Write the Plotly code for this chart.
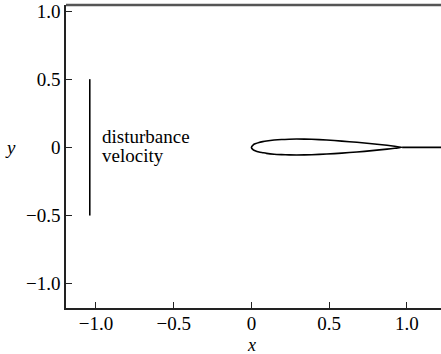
import plotly.graph_objects as go

# Airfoil surface coordinates (chord ~0.97)
x_upper = [0, 0.012, 0.024, 0.049, 0.073, 0.097, 0.146, 0.194, 0.243, 0.291, 0.388, 0.485, 0.582, 0.679, 0.776, 0.873, 0.922, 0.97]
y_upper = [0, 0.019, 0.026, 0.036, 0.042, 0.047, 0.054, 0.058, 0.060, 0.061, 0.059, 0.054, 0.046, 0.037, 0.027, 0.015, 0.008, 0]
x_lower = [0, 0.012, 0.024, 0.049, 0.073, 0.097, 0.146, 0.194, 0.243, 0.291, 0.388, 0.485, 0.582, 0.679, 0.776, 0.873, 0.922, 0.97]
y_lower = [0, -0.018, -0.025, -0.034, -0.039, -0.044, -0.050, -0.053, -0.055, -0.056, -0.054, -0.049, -0.042, -0.034, -0.024, -0.013, -0.007, 0]

# Wake line
x_wake = [0.97, 1.22]
y_wake = [0, 0]

# Disturbance velocity line
x_dist = [-1.04, -1.04]
y_dist = [-0.5, 0.5]

tick_vals = [-1.0, -0.5, 0, 0.5, 1.0]
tick_text = ["\u22121.0", "\u22120.5", "0", "0.5", "1.0"]

FONT = "Liberation Serif, DejaVu Serif, serif"
line = dict(color="black", width=1.6)

fig = go.Figure()
fig.add_trace(go.Scatter(x=x_upper[::-1] + x_lower[1:], y=y_upper[::-1] + y_lower[1:],
                         mode="lines", line=dict(color="black", width=1.6, shape="spline", smoothing=0.6)))
fig.add_trace(go.Scatter(x=x_wake, y=y_wake, mode="lines", line=line))
fig.add_trace(go.Scatter(x=x_dist, y=y_dist, mode="lines", line=line))

fig.add_annotation(x=-0.975, y=0.077, xref="x", yref="y", text="disturbance",
                   showarrow=False, xanchor="left", yanchor="middle",
                   font=dict(family=FONT, size=19, color="black"))
fig.add_annotation(x=-0.975, y=-0.057, xref="x", yref="y", text="velocity",
                   showarrow=False, xanchor="left", yanchor="middle",
                   font=dict(family=FONT, size=19, color="black"))
fig.add_annotation(x=0, y=-0.122, xref="x", yref="paper", text="<i>x</i>", showarrow=False,
                   xanchor="center", yanchor="middle",
                   font=dict(family=FONT, size=18, color="black"))
fig.add_annotation(x=-0.149, y=0, xref="paper", yref="y", text="<i>y</i>", showarrow=False,
                   xanchor="center", yanchor="middle",
                   font=dict(family=FONT, size=19, color="black"))

# top border
fig.add_shape(type="line", xref="paper", yref="paper", x0=0, x1=1, y0=1, y1=1,
              line=dict(color="#555555", width=2.5))

axis_common = dict(showgrid=False, zeroline=False, showline=True, linecolor="#222222", linewidth=1.6,
                   ticks="inside", ticklen=6, tickwidth=1.3, tickcolor="#222222",
                   tickfont=dict(family=FONT, size=19, color="black"),
                   tickvals=tick_vals, ticktext=tick_text)

fig.update_layout(
    width=441, height=354,
    margin=dict(l=66, r=0, t=5, b=46),
    paper_bgcolor="white", plot_bgcolor="white",
    showlegend=False,
    font=dict(family=FONT),
    xaxis=dict(range=[-1.193, 1.22], ticklabelstandoff=-3, **axis_common),
    yaxis=dict(range=[-1.178, 1.044], **axis_common),
)
fig.write_html("out.html")
